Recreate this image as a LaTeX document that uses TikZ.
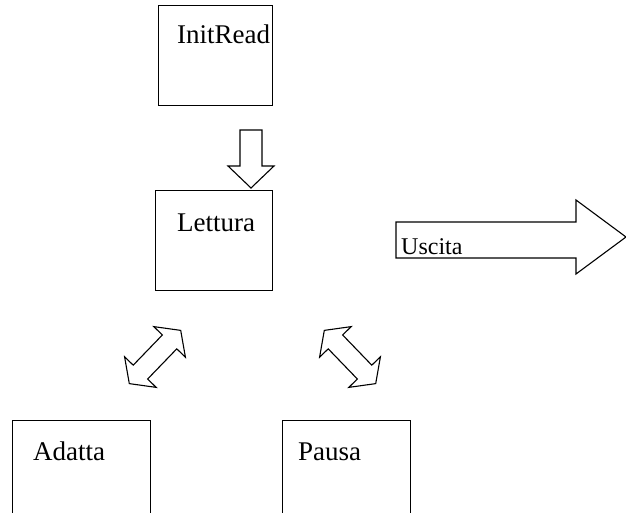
\documentclass[tikz,border=0pt]{standalone}
\usepackage{fontspec}
\setmainfont{Liberation Serif}
\begin{document}
\begin{tikzpicture}[x=1pt,y=-1pt,
  box/.style={draw,line width=1.3pt,inner sep=0pt,anchor=north west},
  lbl/.style={anchor=base west,inner sep=0pt,font=\fontsize{27}{32}\selectfont},
  blockarrow/.style={draw,line width=1.1pt,line join=miter,fill=white},
  pics/dblarrow/.style={code={
    \draw[blockarrow] (37,0) -- (21,22) -- (21,10) -- (-21,10)
      -- (-21,22) -- (-37,0) -- (-21,-22) -- (-21,-10)
      -- (21,-10) -- (21,-22) -- cycle;}}]
\useasboundingbox (0,0) rectangle (626,513);

% state boxes
\node[box,minimum width=114pt,minimum height=100pt] (init) at (158,5) {};
\node[lbl] (initT) at (177,44) {InitRead};
\node[box,minimum width=117pt,minimum height=100pt] (lett) at (155,190) {};
\node[lbl] (lettT) at (177,231) {Lettura};
\node[box,minimum width=138pt,minimum height=120pt] (adat) at (12,420) {};
\node[lbl] (adatT) at (33,460) {Adatta};
\node[box,minimum width=128pt,minimum height=120pt] (paus) at (282,420) {};
\node[lbl] (pausT) at (298,460) {Pausa};

% InitRead -> Lettura
\draw[blockarrow] (240,130) -- (262,130) -- (262,166) -- (274,166)
  -- (251,188) -- (228,166) -- (240,166) -- cycle;

% exit arrow
\draw[blockarrow] (396,222) -- (576,222) -- (576,200) -- (626,237)
  -- (576,274) -- (576,258) -- (396,258) -- cycle;
\node[anchor=base west,inner sep=0pt,font=\fontsize{24}{29}\selectfont] (usc) at (401,254) {Uscita};

% two-way arrows between Lettura and the lower states
\pic[rotate=46] at (155,357) {dblarrow};
\pic[rotate=-46] at (350,357) {dblarrow};
\end{tikzpicture}
\end{document}
